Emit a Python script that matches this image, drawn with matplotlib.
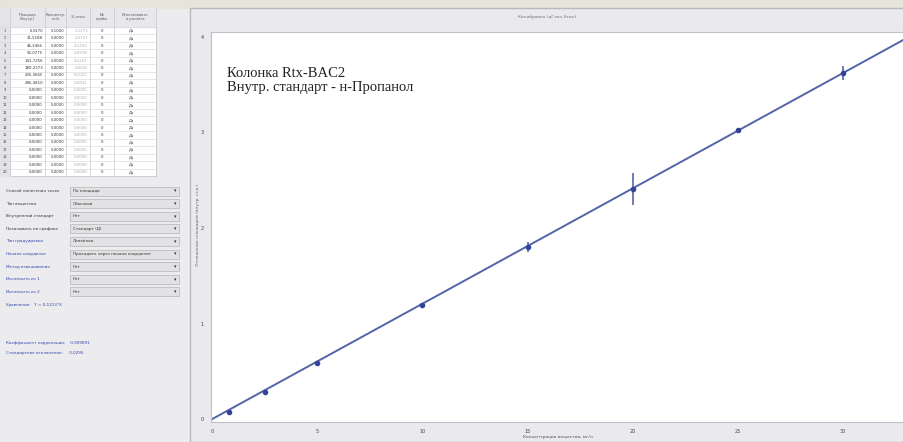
import matplotlib.pyplot as plt
from matplotlib.patches import Rectangle

# calibration points: concentration vs area ratio
conc = [0.8, 2.5, 5, 10, 15, 20, 25, 30]
ratio = [0.07, 0.28, 0.59, 1.19, 1.80, 2.41, 3.02, 3.62]
spread = [0.01, 0.01, 0.01, 0.01, 0.05, 0.17, 0.03, 0.07]
slope = 0.1207
x_ticks = [0, 5, 10, 15, 20, 25, 30]
y_ticks = [0, 1, 2, 3, 4]

# left table
tbl_area = ["6,3270", "21,5188", "46,3466", "92,0775", "141,7256", "180,2373",
            "235,3665", "286,4810"] + ["0,0000"] * 12
tbl_conc = ["5,1000", "5,0000", "5,0000", "5,0000", "5,0000", "5,0000",
            "5,0000", "5,0000"] + ["5,0000"] * 12
tbl_dev = ["1,1273", "0,3157", "0,1203", "0,0978", "0,1201", "0,0655",
           "0,1021", "0,0841"] + ["0,0000"] * 12
tbl_head = ["Площадь\n(Внутр.)", "Концентр.\nмг/л", "% откл.", "№\nпробы", "Использовать\nв расчёте"]

opt_labels = ["Способ нанесения точек", "Тип вещества", "Внутренний стандарт",
              "Показывать на графике", "Тип градуировки", "Начало координат",
              "Метод взвешивания", "Исключить из 1", "Исключить из 2"]
opt_values = ["По площади", "Обычный", "Нет", "Стандарт (Д)", "Линейная",
              "Проходить через начало координат", "Нет", "Нет", "Нет"]

W, H = 904, 442
fig = plt.figure(figsize=(W / 100, H / 100), dpi=100)
fig.patch.set_facecolor("#ececef")

# background panel in pixel coordinates
bg = fig.add_axes([0, 0, 1, 1])
bg.set_xlim(0, W)
bg.set_ylim(H, 0)
bg.axis("off")
bg.add_patch(Rectangle((0, 0), W, 8, color="#e6e5da"))
bg.add_patch(Rectangle((190, 8), W - 190, H - 8, facecolor="#e9e9ee", edgecolor="#b8b8c0", lw=1))
bg.text(547, 17, "Калибровка (дГлаз.Этил)", fontsize=3.2, color="#777", ha="center", va="center")
bg.text(198, 225, "Отношение площадей (внутр. стд.)", fontsize=3.2, color="#666",
        rotation=90, ha="center", va="center")
bg.text(558, 437, "Концентрация вещества, мг/л", fontsize=3.2, color="#555", ha="center", va="center")

# table
bg.add_patch(Rectangle((0, 8), 156, 168, facecolor="white", edgecolor="#c8c8c8", lw=0.6))
bg.add_patch(Rectangle((0, 8), 10, 168, color="#e4e4e8"))
cols = [10, 45, 66, 90, 114, 156]
bg.add_patch(Rectangle((10, 8), 146, 19, color="#e8e8ec"))
for c in cols:
    bg.plot([c, c], [8, 176], color="#c8c8cc", lw=0.5)
for i, h in enumerate(tbl_head):
    bg.text((cols[i] + cols[i + 1]) / 2, 17, h, fontsize=2.6, color="#556", ha="center", va="center")
row_h = 7.45
for r in range(20):
    y = 27 + r * row_h
    bg.plot([0, 156], [y, y], color="#d4d4d8", lw=0.4)
    yc = y + row_h / 2
    bg.text(5, yc, str(r + 1), fontsize=2.6, color="#444", ha="center", va="center")
    bg.text(43, yc, tbl_area[r], fontsize=2.8, color="#333", ha="right", va="center")
    bg.text(64, yc, tbl_conc[r], fontsize=2.8, color="#333", ha="right", va="center")
    bg.text(88, yc, tbl_dev[r], fontsize=2.8, color="#aab", ha="right", va="center")
    bg.text(102, yc, "0", fontsize=2.8, color="#333", ha="center", va="center")
    bg.text(131, yc, "Да", fontsize=2.8, color="#333", ha="center", va="center")

# options
for i, (lab, val) in enumerate(zip(opt_labels, opt_values)):
    y = 191 + i * 12.6
    col = "#333" if i < 4 else "#3344aa"
    bg.text(6, y, lab, fontsize=3, color=col, va="center")
    bg.add_patch(Rectangle((70, y - 4.5), 109, 9, facecolor="#e2e2e4", edgecolor="#b4b4b8", lw=0.5))
    bg.text(73, y, val, fontsize=3, color="#333", va="center")
    bg.text(175, y, "▾", fontsize=3.5, color="#333", ha="center", va="center")
bg.text(6, 305, "Уравнение:   Y = 0,1213*X", fontsize=3, color="#3344aa", va="center")
bg.text(6, 343, "Коэффициент корреляции:    0,999891", fontsize=3, color="#3344aa", va="center")
bg.text(6, 353, "Стандартное отклонение:     0,0295", fontsize=3, color="#3344aa", va="center")

# calibration graph
ax = fig.add_axes([211 / W, (H - 422) / H, (W - 211) / W, (422 - 32) / H])
ax.set_facecolor("white")
ax.set_xlim(-0.05, 32.9)
ax.set_ylim(-0.03, 4.05)
for s in ax.spines.values():
    s.set_color("#c0c0c8")
    s.set_linewidth(0.8)
ax.set_xticks(x_ticks)
ax.set_yticks(y_ticks)
ax.tick_params(length=0, labelsize=3.5, labelcolor="#444", pad=5)

xs = [0, 33]
ax.plot(xs, [slope * v for v in xs], color="#5563a8", lw=1.4, zorder=2)
ax.errorbar(conc, ratio, yerr=spread, fmt="o", ms=3, color="#34429a",
            ecolor="#6470b0", elinewidth=1.3, capsize=0, zorder=3)

ax.text(0.023, 0.91, "Колонка Rtx-BAC2\nВнутр. стандарт - н-Пропанол",
        transform=ax.transAxes, family="Liberation Serif", fontsize=10.5,
        color="#222", va="top", linespacing=1.1)

fig.savefig("out.png", dpi=100, facecolor=fig.get_facecolor())
